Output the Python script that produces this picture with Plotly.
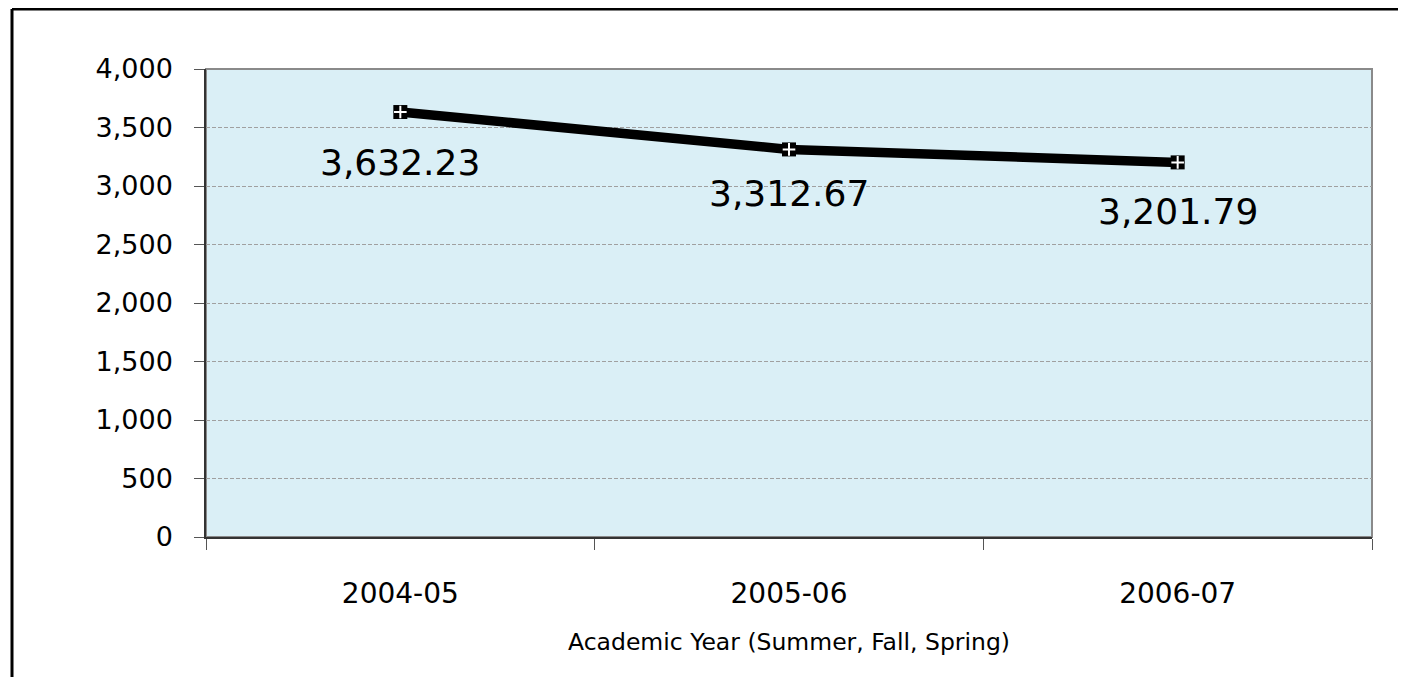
import plotly.graph_objects as go

years = ["2004-05", "2005-06", "2006-07"]
values = [3632.23, 3312.67, 3201.79]
value_labels = ["3,632.23", "3,312.67", "3,201.79"]
y_ticks = [0, 500, 1000, 1500, 2000, 2500, 3000, 3500, 4000]
y_tick_text = ["0", "500", "1,000", "1,500", "2,000", "2,500", "3,000", "3,500", "4,000"]
x_title = "Academic Year (Summer, Fall, Spring)"

FONT = "DejaVu Sans"

fig = go.Figure()
fig.add_trace(go.Scatter(
    x=years, y=values, mode="lines+markers",
    line=dict(color="black", width=9.5),
    marker=dict(symbol="square", size=14, color="black"),
    hoverinfo="skip", showlegend=False,
))
fig.add_trace(go.Scatter(
    x=years, y=values, mode="markers",
    marker=dict(symbol="cross-thin", size=9, color="white",
                line=dict(color="white", width=2)),
    hoverinfo="skip", showlegend=False,
))

shifts = [-50, -44, -49]
for x, y, t, s in zip(years, values, value_labels, shifts):
    fig.add_annotation(x=x, y=y, text=t, showarrow=False, yshift=s,
                       font=dict(family=FONT, size=36, color="black"))

# page body has an 8px default margin; compensate
OFF = 8
W, H = 1406 - OFF, 677 - OFF
L, R, T, B = 206 - OFF, 34, 69 - OFF, 140
pw, ph = W - L - R, H - T - B
bx = (12 - OFF - L) / pw
by = 1 + (T - (9 - OFF)) / ph

fig.update_layout(
    width=W, height=H,
    margin=dict(l=L, r=R, t=T, b=B),
    paper_bgcolor="white",
    plot_bgcolor="#DAEFF6",
    font=dict(family=FONT, color="black"),
    shapes=[
        dict(type="rect", xref="paper", yref="paper", x0=0, x1=1, y0=0, y1=1,
             line=dict(color="#8a8a8a", width=2), layer="below"),
        dict(type="line", xref="paper", yref="paper", x0=bx, x1=bx, y0=-0.5, y1=by,
             line=dict(color="black", width=3)),
        dict(type="line", xref="paper", yref="paper", x0=bx, x1=1.2, y0=by, y1=by,
             line=dict(color="black", width=3)),
    ],
    xaxis=dict(
        type="category", range=[-0.5, 2.5],
        showline=True, linecolor="#333", linewidth=1.5,
        ticks="outside", ticklen=11, tickcolor="#555", tickwidth=1,
        tickson="boundaries",
        showgrid=False, zeroline=False,
        tickfont=dict(family=FONT, size=28),
        ticklabelstandoff=31,
        title=dict(text=x_title, font=dict(family=FONT, size=23.5), standoff=24),
    ),
    yaxis=dict(
        range=[0, 4000], tickvals=y_ticks, ticktext=y_tick_text,
        showline=True, linecolor="#333", linewidth=1.5,
        ticks="outside", ticklen=10, tickcolor="#555", tickwidth=1,
        showgrid=True, gridcolor="#a0a0a0", griddash="4px,2px", gridwidth=1,
        zeroline=False,
        tickfont=dict(family=FONT, size=27),
        ticklabelstandoff=16,
    ),
)

fig.write_html("out.html")
